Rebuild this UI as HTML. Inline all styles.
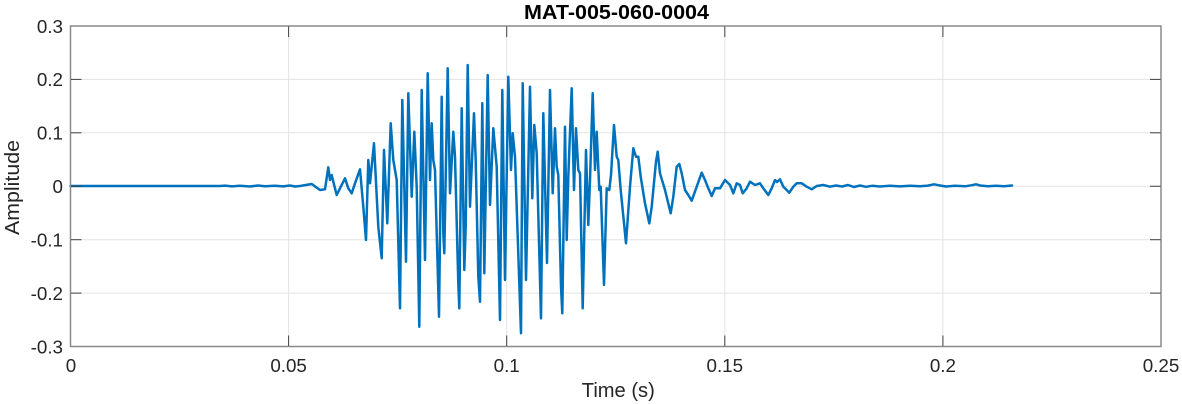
<!DOCTYPE html>
<html>
<head>
<meta charset="utf-8">
<style>
  html, body { margin: 0; padding: 0; background: #ffffff; }
  svg { display: block; }
  text { font-family: "Liberation Sans", Arial, sans-serif; }
</style>
</head>
<body>
<svg width="1182" height="404" viewBox="0 0 1182 404" xmlns="http://www.w3.org/2000/svg">
  <rect x="0" y="0" width="1182" height="404" fill="#ffffff"/>
  <!-- grid -->
  <g stroke="#e3e3e3" stroke-width="1">
    <line x1="288.6" y1="26" x2="288.6" y2="346.5"/>
    <line x1="506.7" y1="26" x2="506.7" y2="346.5"/>
    <line x1="724.8" y1="26" x2="724.8" y2="346.5"/>
    <line x1="942.9" y1="26" x2="942.9" y2="346.5"/>
    <line x1="70.5" y1="79.4" x2="1161" y2="79.4"/>
    <line x1="70.5" y1="132.8" x2="1161" y2="132.8"/>
    <line x1="70.5" y1="186.25" x2="1161" y2="186.25"/>
    <line x1="70.5" y1="239.7" x2="1161" y2="239.7"/>
    <line x1="70.5" y1="293.1" x2="1161" y2="293.1"/>
  </g>
  <!-- waveform -->
  <polyline fill="none" stroke="#0072BD" stroke-width="2.5" stroke-linejoin="round" stroke-linecap="round" points="
70.5,186 220,186 225,185.6 232,186.4 240,185.8 250,186.5 258,185.5 265,186.3 275,185.7 283,186.4 290,185.5 295,186.5 300,186
311.7,184 320,190 325,189.3 328.3,167.3 330,180 331.7,175 333.3,181.7 336.7,195 340,188.3 345,178.3 348.3,188.3 351.7,193.3 355,183.3 360,169.3
363.3,206.7 366,240 368.3,160 370,183.3 374,143.3 378.3,226.7 381.7,258.3 384,150 387.3,223.3 390.7,123.3 393.3,160 396.7,180 400,308.3
402.3,100 406,261.7 408.3,93.3 411.7,196.7 414.3,131.7 416.7,186.7 419.3,326.7 421.7,90 425,260
427.7,73.3 430,180 431.7,123.3 433.3,160 435,170 439,316.7 441.7,96.7 443.3,233.3 444.3,253.3 447.7,68.3 450,193.3 453.3,131.7 455,156.7
458.3,283.3 459.3,308.3 461.7,108.3 464.3,270 465.7,226.7 467.7,65 470,206.7 474,113.3 475.7,160 478.3,276.7 480,301.7 482.3,103.3
484.3,273.3 487.7,75 490,205 493.3,128.3 496.7,166.7 500,320 502.3,90 505,280 508.3,76.7 511,170 512.7,133.3 515,156.7 521,333.3
522.7,83.3 526,280 530,86.7 532.3,198.3 534.3,125 536.7,153.3 541,318.3 543.3,113.3 547,263 550,90
552.7,193.3 555,128.3 556.7,166.7 558.3,175 561,286.7 562.3,313.3 565,126.7 566.7,240 568.3,176.7 571.7,88.3 574,190 576,128.3
578.3,170 580,173.3 582.7,308.3 586,150 588.3,225 590,180 592.7,93.3 595,170 596.7,131.7 599.3,190 600.7,186.7 604,285 606.7,188.3
609.3,190 611,175 614,125 616.7,156.7 618.3,160 620.7,190 626,243.3 630,186.7 633.3,148.3 636,156.7 638.3,156.7 640.7,176.7 645,203.3
649.3,223.3 651.7,206.7 656,161.7 657.7,151.7 660,173.3 665,190 670.7,213.3 673.3,196.7 676.7,166.7 679.3,164 681.7,173.3 685,190
688.3,195 691.7,200.7 696.7,186.7 701.7,172.7 705,180 708.3,188.3 711.7,196 715,188.3 720,188.3 725,180 730,185 733.3,193.3 736.7,183.3
740,185 742.7,193.3 746.7,188.3 750,181.7 755,185 760,183.3 763.3,188.3 768.3,195 771.7,188.3 775,180 777,182 780,179.3 783.3,186.7 786.7,190
789.3,192.7 793.3,186.7 796.7,183.3 801.7,183.3 806.7,186.7 811.7,189.3 816.7,186 823.3,185 830,186.7
836,185.5 842,186.5 848,185 854,187 860,185.5 866,186.8 872,185.8 880,186.5 890,185.8 900,186.4 910,185.8 920,186.3 928,185.6 934,184.3
940,185.5 946,186.5 955,185.8 965,186.3 972,185.2 976,184.3 980,185.5 988,186.3 996,185.7 1004,186.2 1012,185.5"/>
  <!-- axes box -->
  <rect x="70.5" y="26" width="1090.5" height="320.5" fill="none" stroke="#8a8a8a" stroke-width="1.5"/>
  <!-- ticks -->
  <g stroke="#404040" stroke-width="1">
    <line x1="71" y1="79.4" x2="81.5" y2="79.4"/>
    <line x1="71" y1="132.8" x2="81.5" y2="132.8"/>
    <line x1="71" y1="186.25" x2="81.5" y2="186.25"/>
    <line x1="71" y1="239.7" x2="81.5" y2="239.7"/>
    <line x1="71" y1="293.1" x2="81.5" y2="293.1"/>
    <line x1="1150" y1="79.4" x2="1160.5" y2="79.4"/>
    <line x1="1150" y1="132.8" x2="1160.5" y2="132.8"/>
    <line x1="1150" y1="186.25" x2="1160.5" y2="186.25"/>
    <line x1="1150" y1="239.7" x2="1160.5" y2="239.7"/>
    <line x1="1150" y1="293.1" x2="1160.5" y2="293.1"/>
    <line x1="288.6" y1="346" x2="288.6" y2="335.5"/>
    <line x1="506.7" y1="346" x2="506.7" y2="335.5"/>
    <line x1="724.8" y1="346" x2="724.8" y2="335.5"/>
    <line x1="942.9" y1="346" x2="942.9" y2="335.5"/>
    <line x1="288.6" y1="26.5" x2="288.6" y2="37"/>
    <line x1="506.7" y1="26.5" x2="506.7" y2="37"/>
    <line x1="724.8" y1="26.5" x2="724.8" y2="37"/>
    <line x1="942.9" y1="26.5" x2="942.9" y2="37"/>
  </g>
  <!-- y tick labels -->
  <g fill="#262626" font-size="18.8" text-anchor="end">
    <text x="63" y="32.8">0.3</text>
    <text x="63" y="86.2">0.2</text>
    <text x="63" y="139.6">0.1</text>
    <text x="63" y="193">0</text>
    <text x="63" y="246.5">-0.1</text>
    <text x="63" y="299.9">-0.2</text>
    <text x="63" y="353.3">-0.3</text>
  </g>
  <!-- x tick labels -->
  <g fill="#262626" font-size="18.8" text-anchor="middle">
    <text x="71" y="372">0</text>
    <text x="288.6" y="372">0.05</text>
    <text x="506.7" y="372">0.1</text>
    <text x="724.8" y="372">0.15</text>
    <text x="942.9" y="372">0.2</text>
    <text x="1161" y="372">0.25</text>
  </g>
  <!-- axis labels -->
  <text x="618.3" y="397" fill="#262626" font-size="20.3" text-anchor="middle" textLength="73" lengthAdjust="spacingAndGlyphs">Time (s)</text>
  <text transform="translate(19,187.5) rotate(-90)" fill="#262626" font-size="20.3" text-anchor="middle" textLength="95" lengthAdjust="spacingAndGlyphs">Amplitude</text>
  <!-- title -->
  <text x="616.5" y="19" fill="#000000" font-size="20.5" font-weight="bold" text-anchor="middle" textLength="185" lengthAdjust="spacingAndGlyphs">MAT-005-060-0004</text>
</svg>
</body>
</html>
